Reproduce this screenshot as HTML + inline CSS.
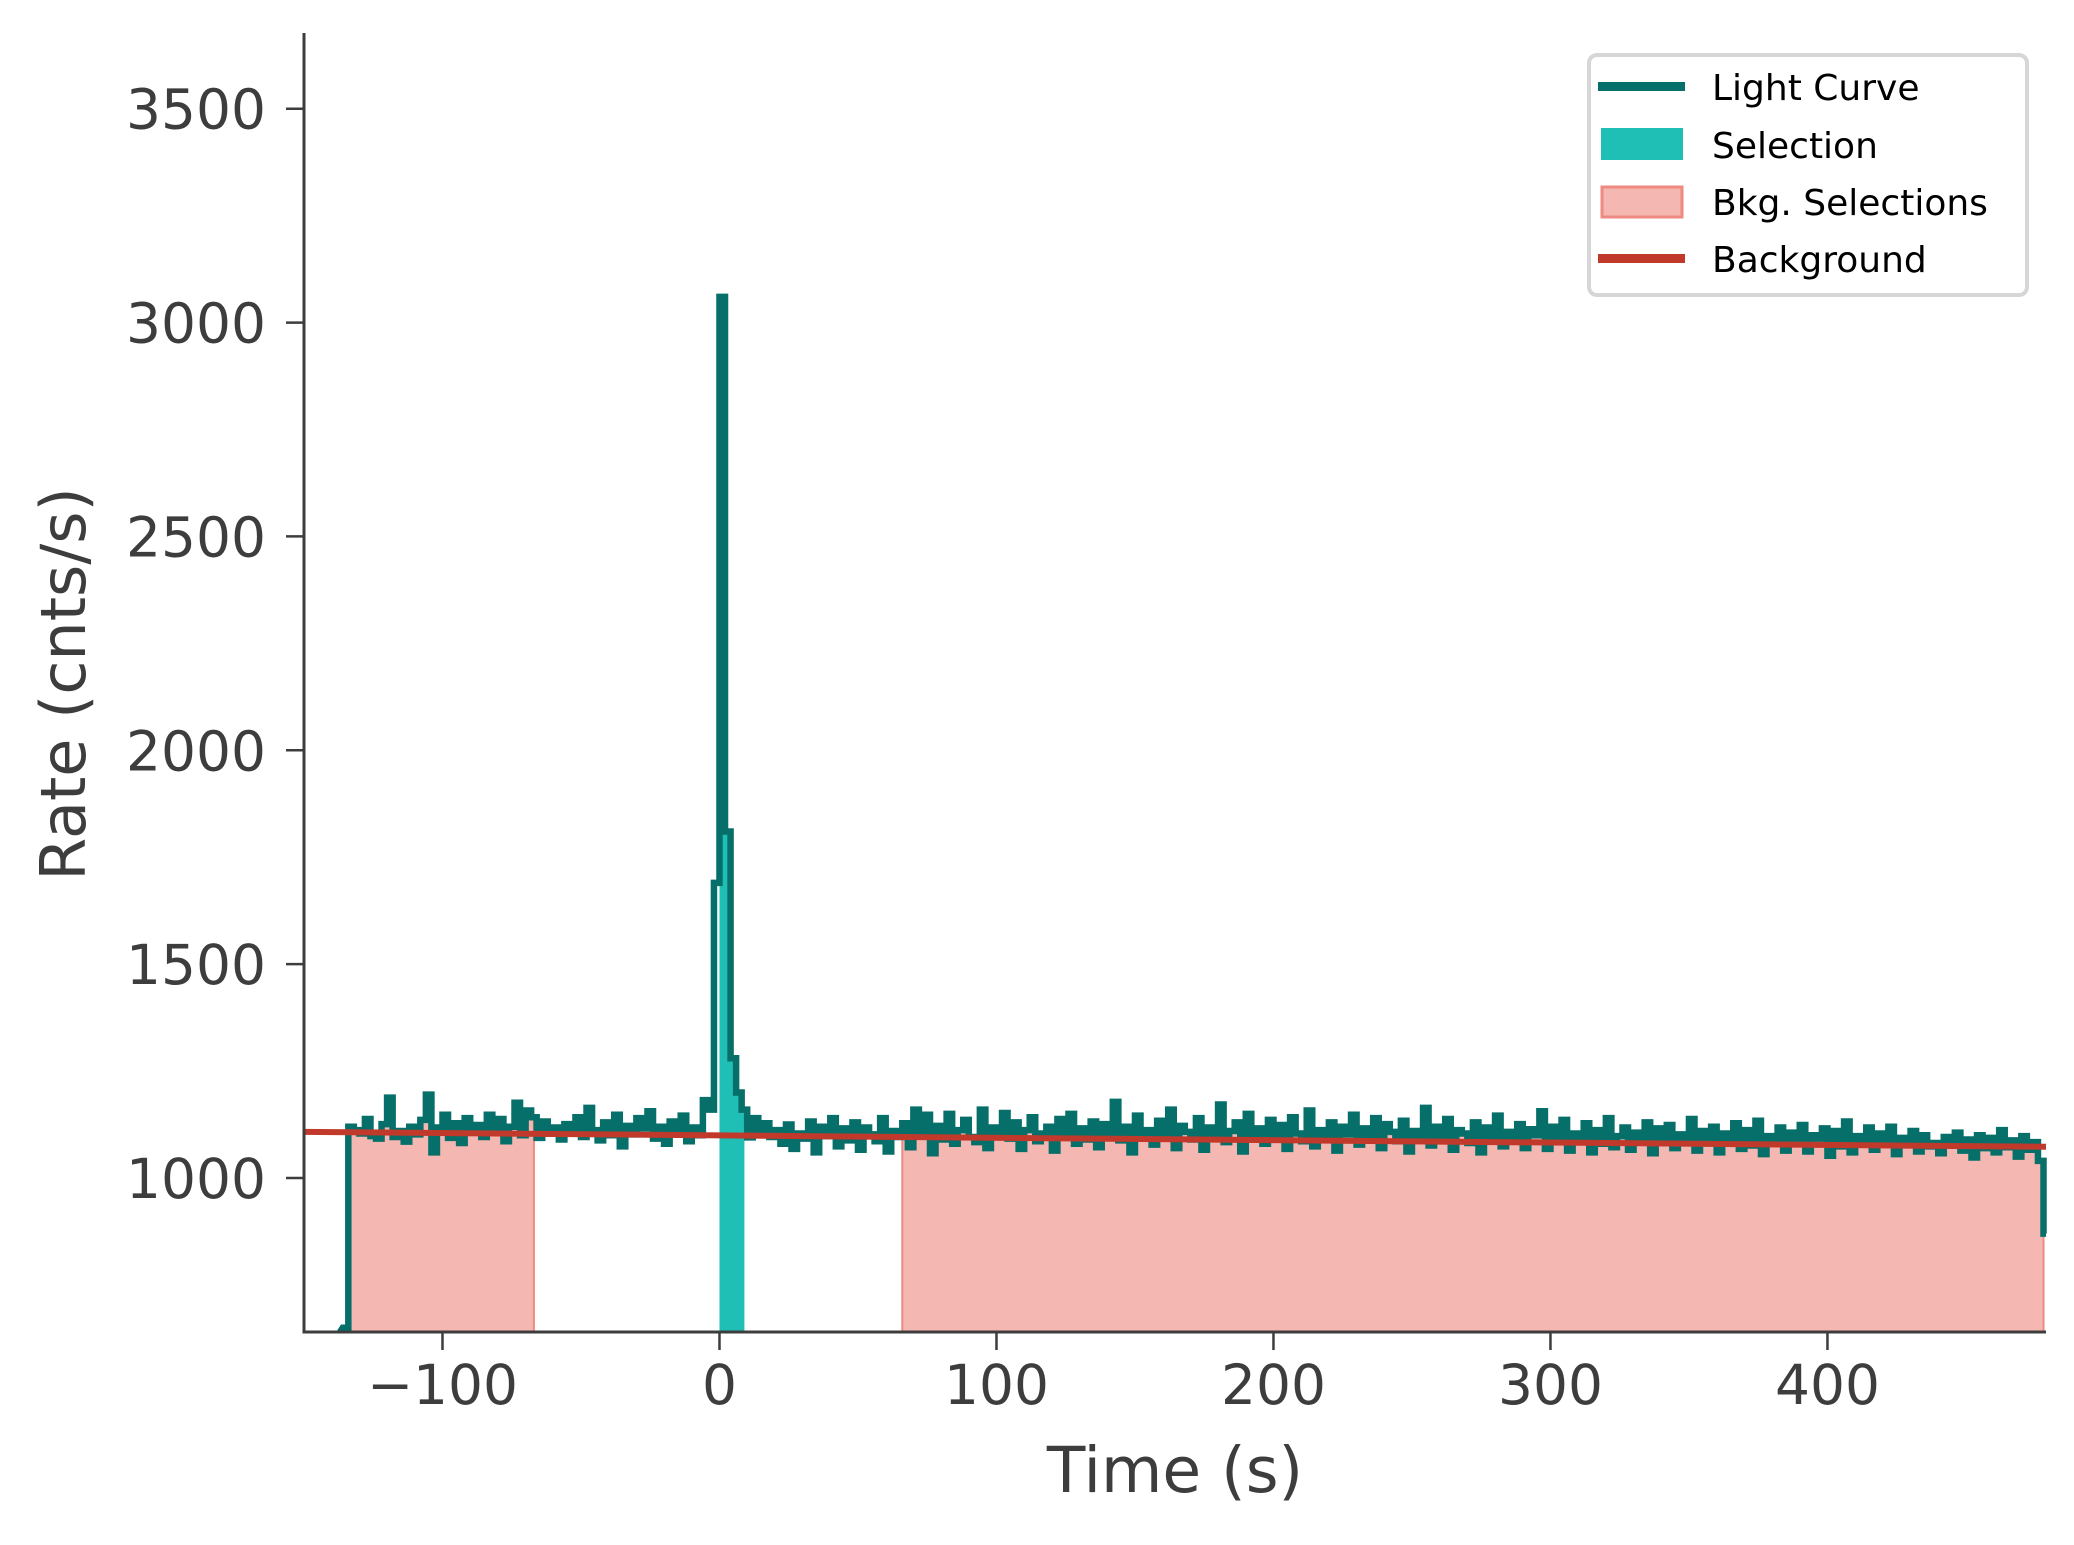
<!DOCTYPE html>
<html><head><meta charset="utf-8"><style>
body{margin:0;background:#fff;}
svg text{font-family:"DejaVu Sans","Liberation Sans",sans-serif;fill:#3d3d3d;}
</style></head><body>
<svg id="chart" width="2074" height="1540" xmlns="http://www.w3.org/2000/svg">
<g id="plot"></g>
<g id="axes"></g>
<g id="legend">
<rect x="1589" y="55" width="438" height="240" rx="8" fill="#fff" stroke="#d6d6d6" stroke-width="4"/>
<g><rect x="1598" y="82" width="87" height="9" fill="#076f69"/><text x="1712" y="100" font-size="36" style="fill:#000">Light Curve</text></g>
<g><rect x="1601" y="128" width="82" height="32" fill="#1fbfb5"/><text x="1712" y="158" font-size="36" style="fill:#000">Selection</text></g>
<g><rect x="1602" y="187" width="80" height="30" fill="#f5b7b1" stroke="#ee8a82" stroke-width="3"/><text x="1712" y="215" font-size="36" style="fill:#000">Bkg. Selections</text></g>
<g><rect x="1598" y="254" width="87" height="9" fill="#c0392b"/><text x="1712" y="272" font-size="36" style="fill:#000">Background</text></g>
</g>
</svg>
<script>
const xTicks=[-100,0,100,200,300,400];
const yTicks=[1000,1500,2000,2500,3000,3500];
const t0=-136, binW=2;
const rates=[
650,1120,1112,1104,1138,1098,1092,1126,1188,1096,
1110,1085,1120,1102,1136,1195,1060,1118,1148,1094,
1128,1082,1140,1108,1124,1096,1148,1112,1138,1086,
1120,1176,1100,1158,1142,1094,1132,1104,1118,1090,
1126,1108,1142,1096,1164,1112,1088,1130,1100,1148,
1074,1122,1102,1140,1116,1156,1092,1120,1080,1132,
1108,1146,1086,1118,1100,1182,1160,1690,3060,1810,
1280,1200,1160,1095,1140,1102,1128,1096,1112,1080,
1125,1068,1104,1092,1132,1060,1120,1098,1140,1074,
1116,1088,1130,1066,1118,1102,1086,1140,1062,1110,
1096,1128,1072,1160,1104,1148,1058,1122,1090,1150,
1080,1112,1136,1096,1084,1160,1070,1118,1100,1152,
1092,1130,1068,1112,1142,1086,1104,1120,1064,1138,
1098,1150,1080,1116,1090,1132,1072,1126,1104,1178,
1088,1120,1060,1146,1100,1112,1078,1134,1094,1160,
1070,1122,1108,1090,1140,1066,1118,1096,1172,1084,
1110,1130,1062,1150,1098,1116,1080,1136,1090,1124,
1068,1142,1104,1086,1158,1074,1112,1096,1130,1064,
1120,1102,1148,1078,1116,1090,1140,1070,1126,1108,
1086,1134,1062,1110,1098,1164,1076,1120,1092,1138,
1066,1112,1104,1082,1130,1060,1118,1094,1146,1074,
1108,1086,1126,1070,1114,1100,1156,1068,1120,1088,
1136,1064,1104,1092,1128,1060,1112,1080,1140,1072,
1098,1118,1066,1106,1084,1130,1058,1116,1090,1124,
1070,1102,1082,1138,1064,1110,1094,1120,1060,1104,
1086,1128,1068,1112,1076,1134,1056,1098,1088,1118,
1064,1106,1080,1124,1062,1100,1092,1116,1052,1110,
1074,1132,1060,1098,1084,1118,1066,1104,1078,1120,
1056,1094,1086,1110,1062,1100,1074,1082,1058,1096,
1080,1106,1064,1090,1048,1100,1070,1094,1060,1112,
1072,1088,1050,1098,1066,1084,1040,870
];
const bkgSel=[[-135,-67],[66,478]];
const srcSel=[0,9];
const bkgLine=[[-150,1108],[478.9,1073]];

const L=304,R=2046,T=33,B=1332,xmin=-150,xmax=478.9,ymin=640,ymax=3677;
const X=v=>L+(v-xmin)/(xmax-xmin)*(R-L);
const Y=v=>B-(v-ymin)/(ymax-ymin)*(B-T);
const NS="http://www.w3.org/2000/svg";
function mk(tag,attrs,parent){const e=document.createElementNS(NS,tag);for(const k in attrs)e.setAttribute(k,attrs[k]);parent.appendChild(e);return e;}
const plot=document.getElementById('plot'),axes=document.getElementById('axes');
function rateAt(t){let i=Math.floor((t-t0)/binW);i=Math.max(0,Math.min(rates.length-1,i));return rates[i];}
function fillPath(a,b){
  let d=`M${X(a)},${Y(ymin)}L${X(a)},${Y(rateAt(a))}`;
  for(let i=0;i<rates.length;i++){const s=t0+i*binW,e=s+binW;if(e<=a||s>=b)continue;
    const s1=Math.max(s,a),e1=Math.min(e,b);d+=`L${X(s1)},${Y(rates[i])}L${X(e1)},${Y(rates[i])}`;}
  d+=`L${X(b)},${Y(rateAt(b-0.01))}L${X(b)},${Y(ymin)}Z`;return d;}
bkgSel.forEach((s,k)=>{
  const p=mk('path',{d:fillPath(s[0],s[1]),fill:'#f5b7b1',stroke:'#ee8a82','stroke-width':2},plot);
  
  
});
const sp=mk('path',{d:fillPath(srcSel[0],srcSel[1]),fill:'#1fbfb5'},plot);


let d=`M${X(t0-1)},${Y(ymin)}`;
for(let i=0;i<rates.length;i++){const s=t0+i*binW,e=Math.min(s+binW,xmax);d+=`L${X(s)},${Y(rates[i])}L${X(e)},${Y(rates[i])}`;}
const lc=mk('path',{d:d,fill:'none',stroke:'#076f69','stroke-width':6.5,'stroke-linejoin':'miter'},plot);


const bl=mk('line',{x1:X(bkgLine[0][0]),y1:Y(bkgLine[0][1]),x2:X(bkgLine[1][0]),y2:Y(bkgLine[1][1]),stroke:'#c0392b','stroke-width':6},plot);


mk('rect',{x:R+2,y:0,width:40,height:B,fill:'#fff'},plot);
const ya=mk('line',{x1:L,y1:T,x2:L,y2:B+1.5,stroke:'#3d3d3d','stroke-width':3},axes);


const xa=mk('line',{x1:L-1.5,y1:B,x2:R,y2:B,stroke:'#3d3d3d','stroke-width':3},axes);


xTicks.forEach(v=>{
  const x=X(v);
  const tk=mk('line',{x1:x,y1:B,x2:x,y2:B+18,stroke:'#3d3d3d','stroke-width':2.5},axes);
  
  
  const tx=mk('text',{x:x,y:B+72,'font-size':55,'text-anchor':'middle'},axes);
  tx.textContent=v<0?'\u2212'+Math.abs(v):String(v);
  
  
});
yTicks.forEach(v=>{
  const y=Y(v);
  const tk=mk('line',{x1:L-18,y1:y,x2:L,y2:y,stroke:'#3d3d3d','stroke-width':2.5},axes);
  
  
  const tx=mk('text',{x:L-38,y:y+20,'font-size':55,'text-anchor':'end'},axes);
  tx.textContent=String(v);
  
  
});
const xt=mk('text',{x:(L+R)/2,y:1492,'font-size':63,'text-anchor':'middle'},axes);
xt.textContent='Time (s)';


const yt=mk('text',{x:0,y:0,'font-size':62,'text-anchor':'middle',transform:`translate(85,684) rotate(-90)`},axes);
yt.textContent='Rate (cnts/s)';


</script>
</body></html>
